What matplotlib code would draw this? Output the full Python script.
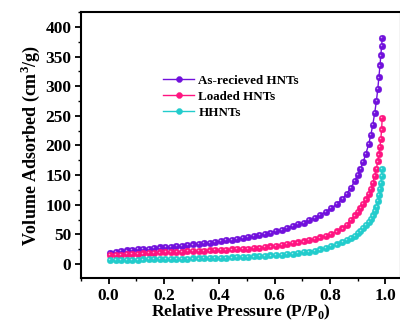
import matplotlib
matplotlib.use('Agg')
import matplotlib.pyplot as plt
import matplotlib.transforms as mtransforms
from matplotlib.ticker import MultipleLocator

plt.rcParams['font.family'] = ['Liberation Serif', 'DejaVu Serif']
plt.rcParams['font.weight'] = 'bold'
plt.rcParams['mathtext.fontset'] = 'custom'
plt.rcParams['mathtext.rm'] = 'Liberation Serif:bold'
plt.rcParams['mathtext.bf'] = 'Liberation Serif:bold'

## Data

pressure = [0.005, 0.025, 0.045, 0.065, 0.085, 0.105, 0.125, 0.145, 0.165, 0.185,
            0.205, 0.225, 0.245, 0.265, 0.285, 0.305, 0.325, 0.345, 0.365, 0.385,
            0.405, 0.425, 0.445, 0.465, 0.485, 0.505, 0.525, 0.545, 0.565, 0.585,
            0.605, 0.625, 0.645, 0.665, 0.685, 0.705, 0.725, 0.745, 0.765, 0.785,
            0.805, 0.825, 0.845, 0.86, 0.875, 0.89, 0.90, 0.91, 0.92, 0.93,
            0.94, 0.948, 0.955, 0.962, 0.968, 0.973, 0.977, 0.981, 0.984, 0.987,
            0.989]

as_received = [19, 21, 22, 23, 24, 25, 25.5, 26, 27, 28,
               28.5, 29, 30, 31, 32, 33, 34, 35, 36, 37,
               38.5, 40, 41, 42.5, 44, 45.5, 47, 49, 51, 53,
               55.5, 58, 61, 64, 67, 70, 74, 78, 83, 88,
               94, 101, 110, 118, 128, 140, 150, 160, 172, 186,
               202, 218, 235, 255, 275, 295, 315, 335, 352, 368,
               381]

loaded = [15, 15.5, 16, 16.5, 17, 17.5, 18, 18.5, 19, 19.5,
          20, 20.3, 20.7, 21, 21.4, 21.8, 22.2, 22.6, 23, 23.4,
          23.8, 24.2, 24.6, 25, 25.5, 26, 26.8, 27.6, 28.6, 29.8,
          31, 32.2, 33.5, 35, 36.5, 38, 40, 42.5, 45, 48,
          51, 55, 60, 66, 74, 82, 88, 94, 101, 109,
          118, 127, 137, 149, 161, 173, 185, 198, 211, 227,
          247]

hhnts = [7, 7, 7.2, 7.4, 7.5, 7.6, 7.8, 8, 8, 8.2,
         8.4, 8.5, 8.7, 8.9, 9.1, 9.3, 9.5, 9.8, 10, 10.3,
         10.6, 10.9, 11.2, 11.5, 11.9, 12.3, 12.8, 13.3, 13.9, 14.5,
         15.2, 16, 16.8, 17.7, 18.7, 19.8, 21, 22.5, 24.5, 27,
         30, 33, 37, 40.5, 44, 48, 52, 56, 61, 66,
         71, 76, 82, 89, 97, 106, 116, 127, 137, 148,
         160]

labels = ['As-recieved HNTs', 'Loaded HNTs', 'HHNTs']
colors = ['#7110DC', '#FF1480', '#22CCCC']
series = [as_received, loaded, hhnts]

## Figure

fig = plt.figure(figsize=(4.0, 3.24), dpi=100)
ax = fig.add_axes([0.2025, 0.142, 0.8, 0.821])

# shift for the little shine on each ball (up-left, in points)
shine = ax.transData + mtransforms.ScaledTranslation(-0.6/72, 0.6/72, fig.dpi_scale_trans)

for vals, col, lab in zip(series, colors, labels):
    ax.plot(pressure, vals, '-o', color=col, lw=1.0, ms=4.8,
            mfc=col, mec=col, mew=0.3, label=lab)
    ax.plot(pressure, vals, 'o', color='white', ms=1.1, alpha=0.6,
            mew=0, transform=shine)

ax.set_xlim(-0.1, 1.057)
ax.set_ylim(-23.6, 425.3)
ax.xaxis.set_major_locator(MultipleLocator(0.2))
ax.xaxis.set_minor_locator(MultipleLocator(0.1))
ax.yaxis.set_major_locator(MultipleLocator(50))
ax.yaxis.set_minor_locator(MultipleLocator(25))
ax.tick_params(which='major', direction='out', length=4, width=1.3, labelsize=12.5, pad=3)
ax.tick_params(which='minor', direction='out', length=2.5, width=1.0)
for s in ax.spines.values():
    s.set_linewidth(1.5)

ax.set_xlabel('Relative Pressure (P/P$_0$)', fontsize=12.5, fontweight='bold', labelpad=-1)
ax.set_ylabel('Volume Adsorbed (cm$^3$/g)', fontsize=13, fontweight='bold', labelpad=2)

handles = ax.get_lines()[0::2]
ax.legend(handles, labels, loc='upper left', bbox_to_anchor=(0.24, 0.785),
          frameon=False, fontsize=9.4, handlelength=2.4, handletextpad=0.3,
          labelspacing=0.3, borderaxespad=0, markerscale=0.9)

fig.savefig('out.png', dpi=100)
